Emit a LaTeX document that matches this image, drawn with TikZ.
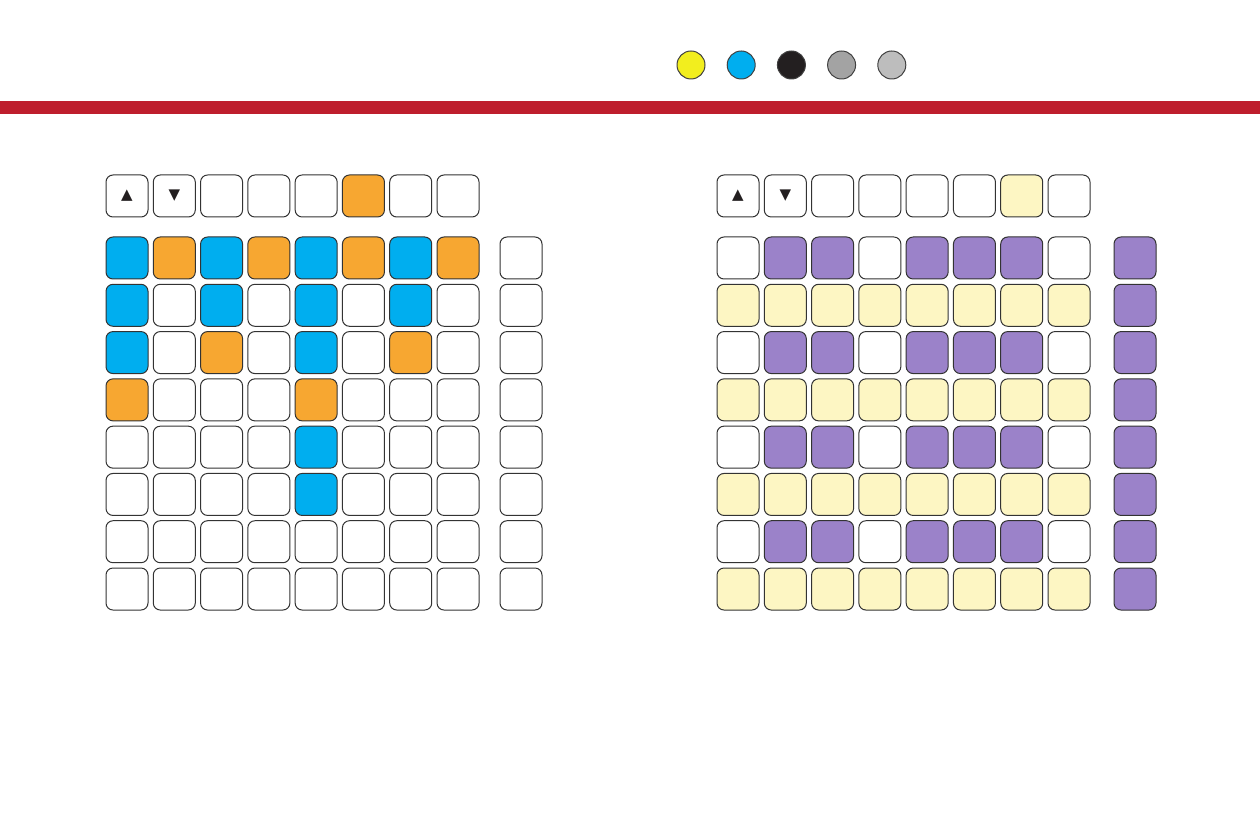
\documentclass[tikz,border=0pt]{standalone}
\usepackage{fontspec}
\newfontfamily\symfont{DejaVu Sans}
\definecolor{cW}{HTML}{FFFFFF}
\definecolor{cB}{HTML}{00AEEF}
\definecolor{cO}{HTML}{F7A731}
\definecolor{cP}{HTML}{9B82C9}
\definecolor{cY}{HTML}{FDF6C3}
\definecolor{cRed}{HTML}{BE1E2D}
\definecolor{dotY}{HTML}{F2EE1E}
\definecolor{dotK}{HTML}{231F20}
\definecolor{dotG}{HTML}{A3A3A3}
\definecolor{dotL}{HTML}{BDBDBD}
\begin{document}
\begin{tikzpicture}[x=0.5pt,y=-0.5pt,
  pad/.style={draw=black!80,line width=0.5pt,rounded corners=3.5pt,minimum size=21pt,inner sep=0pt},
  dot/.style={circle,draw=black!75,line width=0.5pt,minimum size=14pt,inner sep=0pt},
  arrowtxt/.style={font=\symfont\fontsize{7.5}{7.5}\selectfont,text=dotK,inner sep=0pt}]
  \useasboundingbox (0,0) rectangle (1260,828);
  % red band
  \fill[cRed] (0,101) rectangle (1260,114);
  % colour dots
  \foreach \col [count=\k] in {dotY,cB,dotK,dotG,dotL}
    \node[dot,fill=\col] (dot-\k) at ({691+(\k-1)*50.2},65) {};
  % left grid
  \foreach \col [count=\k] in {W,W,W,W,W,O,W,W}
    \node[pad,fill=c\col] (L-top-\k) at ({127+(\k-1)*47.29},196) {};
  \node[arrowtxt] (L-up) at (L-top-1) {▲};
  \node[arrowtxt] (L-down) at (L-top-2) {▼};
  \foreach \row [count=\r] in {{B,O,B,O,B,O,B,O},{B,W,B,W,B,W,B,W},{B,W,O,W,B,W,O,W},
      {O,W,W,W,O,W,W,W},{W,W,W,W,B,W,W,W},{W,W,W,W,B,W,W,W},
      {W,W,W,W,W,W,W,W},{W,W,W,W,W,W,W,W}}
    \foreach \col [count=\k] in \row
      \node[pad,fill=c\col] (L-\r-\k) at ({127+(\k-1)*47.29},{258+(\r-1)*47.29}) {};
  \foreach \r in {1,...,8}
    \node[pad,fill=cW] (L-side-\r) at (521,{258+(\r-1)*47.29}) {};
  % right grid
  \foreach \col [count=\k] in {W,W,W,W,W,W,Y,W}
    \node[pad,fill=c\col] (R-top-\k) at ({738+(\k-1)*47.29},196) {};
  \node[arrowtxt] (R-up) at (R-top-1) {▲};
  \node[arrowtxt] (R-down) at (R-top-2) {▼};
  \foreach \row [count=\r] in {{W,P,P,W,P,P,P,W},{Y,Y,Y,Y,Y,Y,Y,Y},{W,P,P,W,P,P,P,W},
      {Y,Y,Y,Y,Y,Y,Y,Y},{W,P,P,W,P,P,P,W},{Y,Y,Y,Y,Y,Y,Y,Y},
      {W,P,P,W,P,P,P,W},{Y,Y,Y,Y,Y,Y,Y,Y}}
    \foreach \col [count=\k] in \row
      \node[pad,fill=c\col] (R-\r-\k) at ({738+(\k-1)*47.29},{258+(\r-1)*47.29}) {};
  \foreach \r in {1,...,8}
    \node[pad,fill=cP] (R-side-\r) at (1135,{258+(\r-1)*47.29}) {};
\end{tikzpicture}
\end{document}
